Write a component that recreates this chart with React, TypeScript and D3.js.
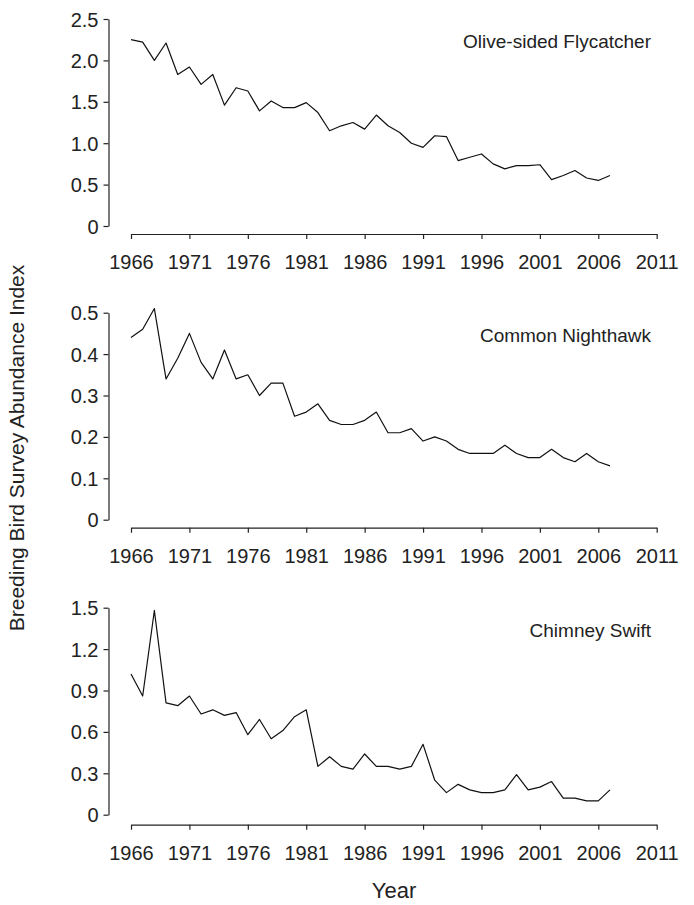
import { useRef, useEffect } from 'react';
import * as d3 from 'd3';

const years = d3.range(1966, 2008);
const yearTicks = [1966, 1971, 1976, 1981, 1986, 1991, 1996, 2001, 2006, 2011];

const flycatcher = [
  2.25, 2.22, 2.0, 2.21, 1.83, 1.92, 1.71, 1.83, 1.46, 1.67,
  1.63, 1.39, 1.51, 1.43, 1.43, 1.49, 1.37, 1.15, 1.21, 1.25,
  1.17, 1.34, 1.21, 1.13, 1.0, 0.95, 1.09, 1.08, 0.79, 0.83,
  0.87, 0.75, 0.69, 0.73, 0.73, 0.74, 0.56, 0.61, 0.67, 0.58,
  0.55, 0.61,
];
const nighthawk = [
  0.44, 0.46, 0.51, 0.34, 0.39, 0.45, 0.38, 0.34, 0.41, 0.34,
  0.35, 0.3, 0.33, 0.33, 0.25, 0.26, 0.28, 0.24, 0.23, 0.23,
  0.24, 0.26, 0.21, 0.21, 0.22, 0.19, 0.2, 0.19, 0.17, 0.16,
  0.16, 0.16, 0.18, 0.16, 0.15, 0.15, 0.17, 0.15, 0.14, 0.16,
  0.14, 0.13,
];
const swift = [
  1.02, 0.86, 1.48, 0.81, 0.79, 0.86, 0.73, 0.76, 0.72, 0.74,
  0.58, 0.69, 0.55, 0.61, 0.71, 0.76, 0.35, 0.42, 0.35, 0.33,
  0.44, 0.35, 0.35, 0.33, 0.35, 0.51, 0.25, 0.16, 0.22, 0.18,
  0.16, 0.16, 0.18, 0.29, 0.18, 0.2, 0.24, 0.12, 0.12, 0.1,
  0.1, 0.18,
];

const species = ['Olive-sided Flycatcher', 'Common Nighthawk', 'Chimney Swift'];
const seriesValues = [flycatcher, nighthawk, swift];
const yTicks = [
  [0, 0.5, 1.0, 1.5, 2.0, 2.5],
  [0, 0.1, 0.2, 0.3, 0.4, 0.5],
  [0, 0.3, 0.6, 0.9, 1.2, 1.5],
];
const yFormats = ['.1f', '.1f', '.1f'];

const FONT = '"Liberation Sans", Arial, sans-serif';
const INK = '#222';

const App = () => {
  const svgRef = useRef<SVGSVGElement>(null);

  useEffect(() => {
    const svg = d3.select(svgRef.current);
    svg.selectAll('*').remove();

    const panelTops = [19, 312.7, 607.7];
    const axisGaps = [8, 8, 10];
    const plotH = 207;
    const left = 108.5;

    const x = d3.scaleLinear().domain([1966, 2011]).range([131, 656.7]);

    species.forEach((name, i) => {
      const values = seriesValues[i];
      const ticks = yTicks[i];
      const top = panelTops[i];
      const zero = top + plotH;
      const g = svg.append('g');

      const y = d3.scaleLinear()
        .domain([0, ticks[ticks.length - 1]])
        .range([zero, top]);

      const fmt = d3.format(yFormats[i]);
      const yAxis = g.append('g')
        .attr('transform', `translate(${left},0)`)
        .call(d3.axisLeft(y).tickValues(ticks).tickSize(5).tickSizeOuter(0)
          .tickFormat(d => (+d === 0 ? '0' : fmt(+d))));

      const xAxis = g.append('g')
        .attr('transform', `translate(0,${zero + axisGaps[i]})`)
        .call(d3.axisBottom(x).tickValues(yearTicks).tickSize(5).tickSizeOuter(0)
          .tickFormat(d3.format('d')));

      [yAxis, xAxis].forEach(ax => {
        ax.select('.domain').attr('stroke', INK).attr('stroke-width', 1.2);
        ax.selectAll('.tick line').attr('stroke', INK).attr('stroke-width', 1.2);
        ax.selectAll('.tick text')
          .attr('fill', INK)
          .style('font-family', FONT)
          .style('font-size', '20px');
      });
      yAxis.selectAll('.tick text').attr('x', -10).attr('dy', '0.35em');
      xAxis.selectAll('.tick text').attr('y', 21).attr('dy', '0.71em');
      yAxis.attr('font-family', null);
      xAxis.attr('font-family', null);

      const line = d3.line<number>()
        .x((_, j) => x(years[j]))
        .y(d => y(d));

      g.append('path')
        .datum(values)
        .attr('fill', 'none')
        .attr('stroke', '#111')
        .attr('stroke-width', 1.2)
        .attr('stroke-linejoin', 'round')
        .attr('d', line);

      g.append('text')
        .attr('x', 651)
        .attr('y', top + 29)
        .attr('text-anchor', 'end')
        .attr('fill', INK)
        .style('font-family', FONT)
        .style('font-size', '19px')
        .text(name);
    });

    svg.append('text')
      .attr('transform', 'translate(24,448) rotate(-90)')
      .attr('text-anchor', 'middle')
      .attr('fill', INK)
      .style('font-family', FONT)
      .style('font-size', '21px')
      .text('Breeding Bird Survey Abundance Index');

    svg.append('text')
      .attr('x', 394)
      .attr('y', 898)
      .attr('text-anchor', 'middle')
      .attr('fill', INK)
      .style('font-family', FONT)
      .style('font-size', '22px')
      .text('Year');
  }, []);

  return (
    <svg
      ref={svgRef}
      width={694}
      height={905}
      style={{ position: 'absolute', left: 0, top: 0, background: '#fff' }}
    />
  );
};

export default App;
